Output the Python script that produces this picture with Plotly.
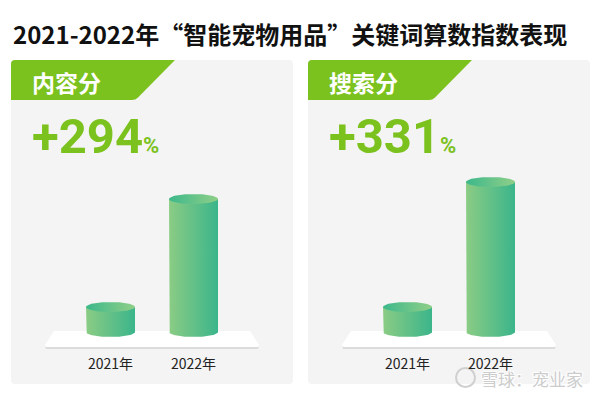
import numpy as np
import plotly.graph_objects as go

# ---------------- data ----------------
years = ["2021年", "2022年"]
content_values = [25, 133]      # 内容分 (bar heights)
search_values = [25, 150]       # 搜索分
panel_titles = ["内容分", "搜索分"]
growth_labels = ["+294", "+331"]
title_text = "2021-2022年“智能宠物用品”关键词算数指数表现"
watermark = "雪球：宠业家"

W, H = 600, 396
def px(x):
    return x / W
def py(y):
    return 1 - y / H

BODY = [[0, "#8bcc84"], [1, "#3bb58b"]]
TOP = [[0, "#3db88b"], [1, "#8fcf88"]]
HALF_W = 0.295   # bar half width in category units
RY = 5           # ellipse half-height in value units

fig = go.Figure()

panels = [
    dict(x0=11, x1=293, vals=content_values, xa="x", ya="y"),
    dict(x0=308, x1=590, vals=search_values, xa="x2", ya="y2"),
]

unit = 83.0
base_py = 332
shapes = []
annotations = []

def rounded_rect(x0, y0, x1, y1, r):
    return (f"M {px(x0+r)},{py(y0)} L {px(x1-r)},{py(y0)} Q {px(x1)},{py(y0)} {px(x1)},{py(y0+r)} "
            f"L {px(x1)},{py(y1-r)} Q {px(x1)},{py(y1)} {px(x1-r)},{py(y1)} "
            f"L {px(x0+r)},{py(y1)} Q {px(x0)},{py(y1)} {px(x0)},{py(y1-r)} "
            f"L {px(x0)},{py(y0+r)} Q {px(x0)},{py(y0)} {px(x0+r)},{py(y0)} Z")

t = np.linspace(0, np.pi, 40)
tf = np.linspace(0, 2 * np.pi, 80)

for i, p in enumerate(panels):
    x0, x1 = p["x0"], p["x1"]
    cx = (x0 + x1) / 2.0
    # panel background
    shapes.append(dict(type="path", path=rounded_rect(x0, 60, x1, 384, 4), xref="paper", yref="paper",
                       fillcolor="#f4f4f4", line=dict(width=0), layer="below"))
    # tab
    tab_r = x0 + 164
    tab_path = (f"M {px(x0)},{py(64)} Q {px(x0)},{py(60)} {px(x0+4)},{py(60)} L {px(tab_r)},{py(60)} "
                f"L {px(tab_r-37)},{py(97.5)} Q {px(tab_r-39.5)},{py(100)} {px(tab_r-43)},{py(100)} "
                f"L {px(x0)},{py(100)} Z")
    shapes.append(dict(type="path", path=tab_path, xref="paper", yref="paper",
                       fillcolor="#7cc21f", line=dict(width=0), layer="below"))
    # platform shadow + platform
    pl, pr = cx - 107, cx + 107
    shapes.append(dict(type="path",
                       path=f"M {px(pl+1)},{py(346)} L {px(pr-1)},{py(346)} Q {px(pr)},{py(346)} {px(pr-1)},{py(349)} L {px(pl+1)},{py(349)} Q {px(pl)},{py(346)} {px(pl+1)},{py(346)} Z",
                       xref="paper", yref="paper", fillcolor="#dcdcdc", line=dict(width=0), layer="below"))
    shapes.append(dict(type="path",
                       path=f"M {px(pl+9)},{py(331)} L {px(pr-9)},{py(331)} L {px(pr)},{py(345)} Q {px(pr)},{py(347)} {px(pr-2)},{py(347)} L {px(pl+2)},{py(347)} Q {px(pl)},{py(347)} {px(pl)},{py(345)} Z",
                       xref="paper", yref="paper", fillcolor="#ffffff", line=dict(width=0), layer="below"))
    # tab label
    annotations.append(dict(text=f"<b>{panel_titles[i]}</b>", x=px(x0 + 19), y=py(82), xref="paper", yref="paper",
                            xanchor="left", yanchor="middle", showarrow=False,
                            font=dict(family="Noto Sans CJK SC", size=23, color="#ffffff")))
    # growth label
    annotations.append(dict(text=f"<b>{growth_labels[i]}<span style='font-size:22px'>%</span></b>",
                            x=px(x0 + 19), y=py(136), xref="paper", yref="paper",
                            xanchor="left", yanchor="middle", showarrow=False,
                            font=dict(family="Roboto", size=49, color="#7cc21f")))

    # axes
    left = (x0 - (cx - unit / 2)) / unit
    right = (x1 - (cx - unit / 2)) / unit
    common_x = dict(domain=[px(x0), px(x1)], range=[left, right], showgrid=False, zeroline=False,
                    showticklabels=False, ticks="", showline=False, fixedrange=True)
    common_y = dict(domain=[0, 1], range=[-(H - base_py), base_py], showgrid=False, zeroline=False,
                    showticklabels=False, ticks="", showline=False, fixedrange=True)
    if i == 0:
        fig.update_layout(xaxis=dict(**common_x, anchor="y"), yaxis=dict(**common_y, anchor="x"))
    else:
        fig.update_layout(xaxis2=dict(**common_x, anchor="y2"), yaxis2=dict(**common_y, anchor="x2"))

    # cylinders
    for j, v in enumerate(p["vals"]):
        xs_arc = j - HALF_W * np.cos(t)        # left -> right along lower arc
        ys_arc = -RY * np.sin(t)
        bx = np.concatenate([[j - HALF_W], xs_arc, [j + HALF_W, j - HALF_W]])
        by = np.concatenate([[v], ys_arc, [v, v]])
        fig.add_trace(go.Scatter(x=bx, y=by, xaxis=p["xa"], yaxis=p["ya"], mode="lines",
                                 fill="toself", line=dict(width=0), fillgradient=dict(type="horizontal", colorscale=BODY),
                                 hoverinfo="skip", showlegend=False))
        ex = j + HALF_W * np.cos(tf)
        ey = v + RY * np.sin(tf)
        fig.add_trace(go.Scatter(x=ex, y=ey, xaxis=p["xa"], yaxis=p["ya"], mode="lines",
                                 fill="toself", line=dict(width=0), fillgradient=dict(type="horizontal", colorscale=TOP),
                                 hoverinfo="skip", showlegend=False))
        # year label
        annotations.append(dict(text=years[j], x=j, y=-(363 - base_py), xref=p["xa"], yref=p["ya"],
                                xanchor="center", yanchor="middle", showarrow=False,
                                font=dict(family="Noto Sans CJK SC", size=14, color="#222222")))

# title
annotations.append(dict(text=f"<b>{title_text}</b>", x=px(11), y=py(33), xref="paper", yref="paper",
                        xanchor="left", yanchor="middle", showarrow=False,
                        font=dict(family="Noto Sans CJK SC", size=24, color="#111111")))
# watermark
shapes.append(dict(type="circle", xref="paper", yref="paper", x0=px(456), x1=px(475), y0=py(387), y1=py(368),
                   line=dict(color="#cfcfcf", width=2), fillcolor="rgba(0,0,0,0)"))
annotations.append(dict(text=watermark, x=px(479), y=py(378), xref="paper", yref="paper",
                        xanchor="left", yanchor="middle", showarrow=False,
                        font=dict(family="Noto Sans CJK SC", size=17, color="#cccccc",
                                  shadow="1px 1px 0 #ffffff, -1px -1px 0 #ffffff, 1px -1px 0 #ffffff, -1px 1px 0 #ffffff")))

fig.update_layout(width=W, height=H, margin=dict(l=0, r=0, t=0, b=0),
                  paper_bgcolor="#ffffff", plot_bgcolor="rgba(0,0,0,0)",
                  shapes=shapes, annotations=annotations, showlegend=False)

fig.write_html("out.html", config={"displayModeBar": False, "staticPlot": True},
               post_script="document.body.style.margin='0';document.body.style.overflow='hidden';")
